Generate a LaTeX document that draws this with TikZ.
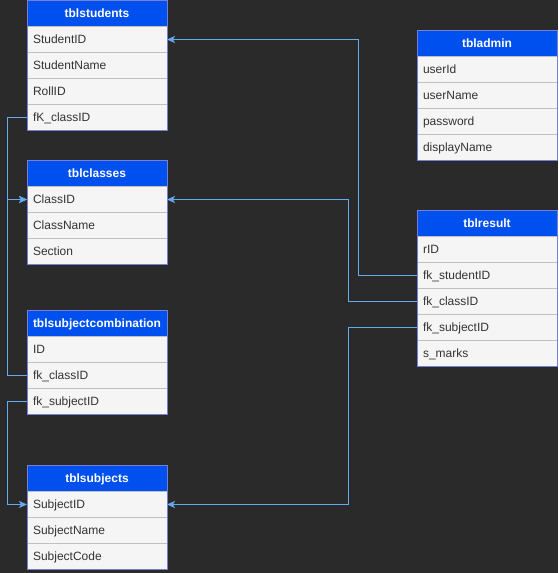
\documentclass[tikz,border=0pt]{standalone}
\usepackage{fontspec}
\setmainfont{Liberation Sans}
\usetikzlibrary{arrows.meta}
\definecolor{bgc}{HTML}{2A2A2A}
\definecolor{hdrc}{HTML}{0050EF}
\definecolor{rowc}{HTML}{F5F5F5}
\definecolor{sepc}{HTML}{C0C0C0}
\definecolor{brdc}{HTML}{7480D8}
\definecolor{conc}{HTML}{66AAF0}
\definecolor{txtc}{HTML}{333333}
\tikzset{
  hdr/.style={fill=hdrc, draw=brdc, line width=1pt, outer sep=0pt, minimum height=26pt, text width=128pt, inner xsep=6pt, inner ysep=0pt,
    align=center, text=white, font=\bfseries\fontsize{12}{14}\selectfont, text height=8.6pt, text depth=0.5pt, anchor=north west},
  rowbox/.style={fill=rowc, draw=sepc, line width=1pt, outer sep=0pt, minimum height=26pt, text width=128pt, inner xsep=6pt, inner ysep=0pt,
    align=left, text=txtc, font=\fontsize{12}{14}\selectfont, text height=8.6pt, text depth=0.5pt, anchor=north west},
  conn/.style={draw=conc, line width=1pt, -{Stealth[length=8pt,width=7pt,inset=2pt]}},
}
\newcommand{\ertable}[5]{%
  \node[hdr] (#1-h) at (#2) {#3};
  \foreach \r [count=\i] in {#5} {
    \node[rowbox] (#1-\i) at ([yshift={-(\i-1)*26pt}]#1-h.south west) {\r};
  }
  \draw[brdc, line width=1pt] (#1-h.north west) rectangle (#1-#4.south east);
}
\begin{document}
\begin{tikzpicture}[x=1pt, y=-1pt]
  \fill[bgc] (0,0) rectangle (558,573);
  \useasboundingbox (0,0) rectangle (558,573);
  \ertable{st}{27,0.5}{tblstudents}{4}{StudentID,StudentName,RollID,fK\_classID}
  \ertable{ad}{417,30.5}{tbladmin}{4}{userId,userName,password,displayName}
  \ertable{cl}{27,160.5}{tblclasses}{3}{ClassID,ClassName,Section}
  \ertable{sc}{27,310.5}{tblsubjectcombination}{3}{ID,fk\_classID,fk\_subjectID}
  \ertable{su}{27,465.5}{tblsubjects}{3}{SubjectID,SubjectName,SubjectCode}
  \ertable{re}{417,210.5}{tblresult}{5}{rID,fk\_studentID,fk\_classID,fk\_subjectID,s\_marks}
  \draw[conn] (re-2.west) -- ++(-59pt,0) |- (st-1.east);
  \draw[conn] (re-3.west) -- ++(-69pt,0) |- (cl-1.east);
  \draw[conn] (re-4.west) -- ++(-69pt,0) |- (su-1.east);
  \draw[conn] (st-4.west) -- ++(-20pt,0) |- (cl-1.west);
  \draw[conn] (sc-2.west) -- ++(-20pt,0) |- (cl-1.west);
  \draw[conn] (sc-3.west) -- ++(-20pt,0) |- (su-1.west);
\end{tikzpicture}
\end{document}
